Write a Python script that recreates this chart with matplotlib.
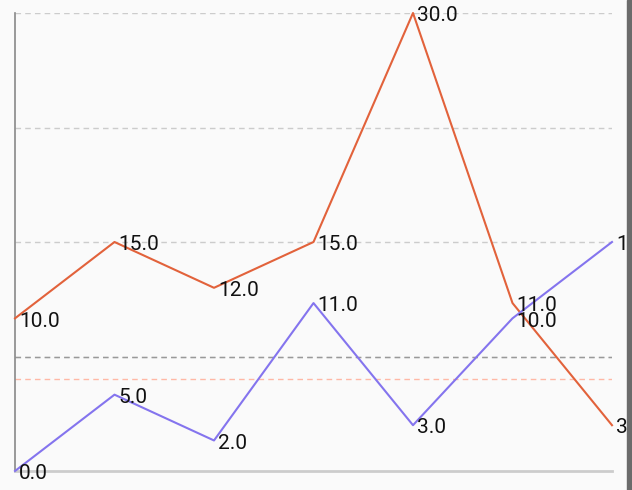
import numpy as np
import matplotlib
matplotlib.use('Agg')
import matplotlib.pyplot as plt
from matplotlib.patches import Rectangle

plt.rcParams['font.family'] = ['Roboto', 'DejaVu Sans']

## data
xLabels = ['0', '1', '2', '3', '4', '5', '6']
orangeValues = [10, 15, 12, 15, 30, 11, 3]
purpleValues = [0, 5, 2, 11, 3, 10, 15]
gridValues = [7.5, 15, 22.5, 30]
limitGray = 7.5
limitSalmon = 6

orangeColor = '#e2623b'
purpleColor = '#8474ee'

## plot
fig = plt.figure(figsize=(6.32, 4.9), dpi=100)
fig.patch.set_facecolor('#fafafa')
ax = fig.add_axes([15/632, 1 - 471/490, (612-15)/632, (471-13)/490])
ax.set_facecolor('#fafafa')

xs = np.arange(len(xLabels))
ax.set_xlim(0, len(xLabels) - 1)
ax.set_ylim(0, 30)

for g in gridValues:
    ax.axhline(g, color='#cccccc', linestyle=(0, (4, 3)), linewidth=1, zorder=1)
ax.axhline(limitGray, color='#999999', linestyle=(0, (4, 3)), linewidth=1, zorder=2)
ax.axhline(limitSalmon, color='#ffb8a6', linestyle=(0, (4, 3)), linewidth=1, zorder=2)

ax.plot(xs, orangeValues, color=orangeColor, linewidth=1.5, zorder=3, clip_on=False)
ax.plot(xs, purpleValues, color=purpleColor, linewidth=1.5, zorder=3, clip_on=False)

for x, v in zip(xs, orangeValues):
    ax.annotate('%.1f' % v, (x, v), xytext=(3, -2), textcoords='offset points',
                va='center', ha='left', fontsize=15, color='#111111', zorder=5,
                annotation_clip=False)
for x, v in zip(xs, purpleValues):
    ax.annotate('%.1f' % v, (x, v), xytext=(3, -2), textcoords='offset points',
                va='center', ha='left', fontsize=15, color='#111111', zorder=5,
                annotation_clip=False)

for s in ['top', 'right']:
    ax.spines[s].set_visible(False)
ax.spines['left'].set_color('#888888')
ax.spines['left'].set_linewidth(1.2)
ax.spines['bottom'].set_color('#cccccc')
ax.spines['bottom'].set_linewidth(2)
ax.set_xticks([])
ax.set_yticks([])

# dark strip at the right edge
fig.add_artist(Rectangle((627/632, 0), 5/632, 1, transform=fig.transFigure,
                         color='#6b6b6b', zorder=10))

plt.savefig('out.png', dpi=100, facecolor=fig.get_facecolor())
